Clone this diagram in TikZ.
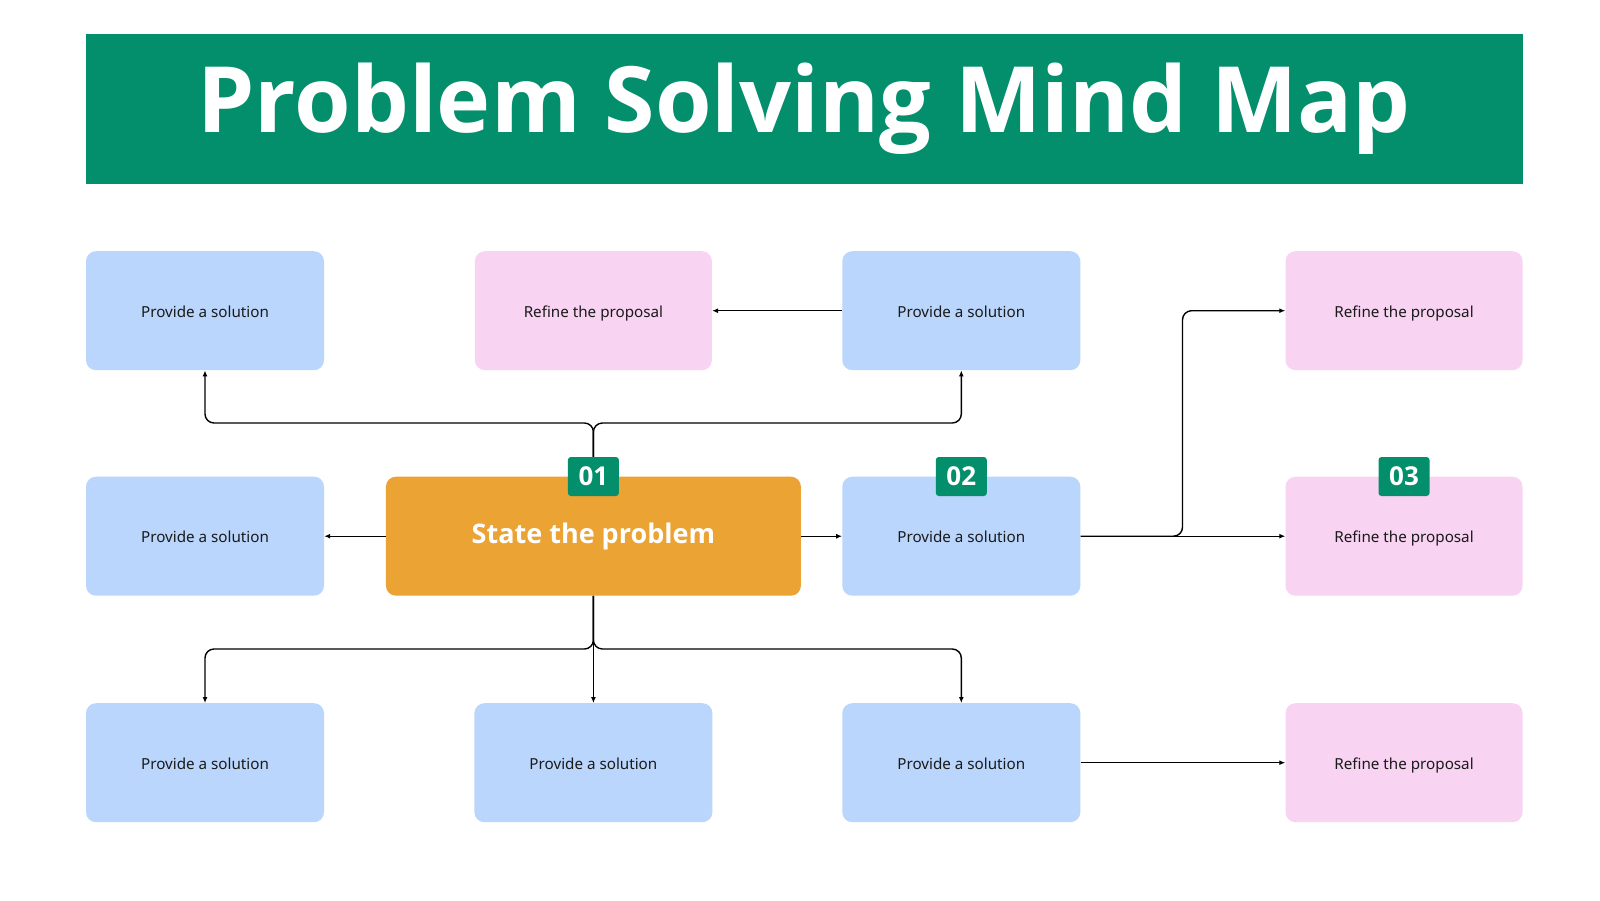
\documentclass[tikz,border=0pt]{standalone}
\usepackage{fontspec}
\setmainfont{Noto Sans}
\newfontfamily\boldsans{Open Sans}
\usetikzlibrary{arrows.meta}
\definecolor{ttgreen}{RGB}{3,142,108}
\definecolor{ttorange}{RGB}{235,163,52}
\definecolor{ttblue}{RGB}{186,214,252}
\definecolor{ttpink}{RGB}{248,211,242}
\definecolor{tttext}{RGB}{26,26,26}
\tikzset{
  card/.style={rounded corners=10pt, minimum height=119pt, text=tttext,
    font=\fontsize{15.2}{18}\selectfont, inner sep=0pt, text height=15pt, text depth=2pt},
  bluecard/.style={card, fill=ttblue, minimum width=238pt},
  pinkcard/.style={card, fill=ttpink, minimum width=237pt},
  badge/.style={fill=ttgreen, rounded corners=3pt, minimum width=51pt, minimum height=39pt,
    text=white, inner sep=0pt, font=\boldsans\fontsize{26}{26}\selectfont\bfseries},
  conn/.style={line width=1.4pt, draw=black, rounded corners=9pt, -{Latex[length=6pt,width=5pt]}}
}
\begin{document}
\begin{tikzpicture}[x=1pt,y=-1pt]
\useasboundingbox[fill=white] (0,0) rectangle (1600,900);
% title banner
\node[fill=ttgreen, minimum width=1437pt, minimum height=150pt, inner sep=0pt, text=white,
  font=\boldsans\fontsize{91.5}{92}\selectfont\bfseries] (title) at (804,109) {Problem Solving Mind Map};
% cards
\node[bluecard] (p11) at (205,310.7) {Provide a solution};
\node[pinkcard] (r12) at (593.4,310.7) {Refine the proposal};
\node[bluecard] (p13) at (961.3,310.7) {Provide a solution};
\node[pinkcard] (r14) at (1404,310.7) {Refine the proposal};
\node[bluecard] (p21) at (205,536.2) {Provide a solution};
\node[card, fill=ttorange, minimum width=415pt, text=white, text height=20pt, text depth=5pt,
  font=\boldsans\fontsize{27}{30}\selectfont\bfseries] (center) at (593.4,536.2) {State the problem};
\node[bluecard] (p23) at (961.3,536.2) {Provide a solution};
\node[pinkcard] (r24) at (1404,536.2) {Refine the proposal};
\node[bluecard] (p31) at (205,762.7) {Provide a solution};
\node[bluecard] (p32) at (593.4,762.7) {Provide a solution};
\node[bluecard] (p33) at (961.3,762.7) {Provide a solution};
\node[pinkcard] (r34) at (1404,762.7) {Refine the proposal};
% junctions
\coordinate (jt) at (593.4,423);
\coordinate (jb) at (593.4,649);
\coordinate (jr) at (1182.5,536.2);
% connectors
\draw[conn] (center.north) -- (jt) -| (p11.south);
\draw[conn] (center.north) -- (jt) -| (p13.south);
\draw[conn] (p13.west) -- (r12.east);
\draw[conn] (center.west) -- (p21.east);
\draw[conn] (center.east) -- (p23.west);
\draw[conn] (p23.east) -- (r24.west);
\draw[conn] (p23.east) -- (jr) |- (r14.west);
\draw[conn] (center.south) -- (jb) -| (p31.north);
\draw[conn] (center.south) -- (p32.north);
\draw[conn] (center.south) -- (jb) -| (p33.north);
\draw[conn] (p33.east) -- (r34.west);
% badges
\node[badge] (b1) at (center.north) {01};
\node[badge] (b2) at (p23.north) {02};
\node[badge] (b3) at (r24.north) {03};
\end{tikzpicture}
\end{document}
